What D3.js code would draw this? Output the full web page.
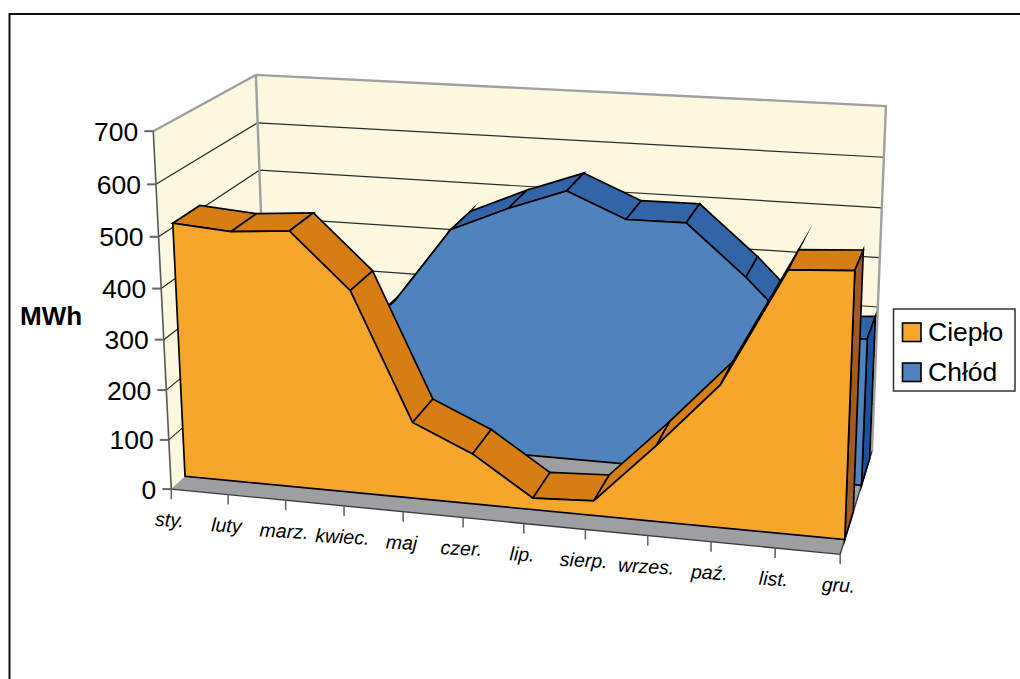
<!DOCTYPE html>
<html lang="pl">
<head>
<meta charset="utf-8">
<style>
html,body{margin:0;background:#fff}
svg{display:block}
text{font-family:"Liberation Sans",Arial,sans-serif;fill:#000}
</style>
</head>
<body>
<svg id="chart" width="1020" height="679"></svg>
<script src="https://cdn.jsdelivr.net/npm/d3@7"></script>
<script>
// Monthly energy demand, MWh
const months = ["sty.","luty","marz.","kwiec.","maj","czer.","lip.","sierp.","wrzes.","paź.","list.","gru."];
const heat = [508,499,508,401,152,100,23,29,148,275,498,505];
const cool = [120,150,190,301,453,503,545,496,497,398,284,294];
const valueTicks = [0,100,200,300,400,500,600,700];
const seriesNames = ["Ciepło","Chłód"];

const palette = {
  wall:"#FCF8DF", floor:"#9E9FA1", edge:"#9EA0A2", grid:"#2a2a2a",
  heatFront:"#F6A62B", heatTop:"#D67E14", heatSide:"#A05A22",
  coolFront:"#5083BE", coolTop:"#3264A8", coolSide:"#1A529E"
};

// Anchor points of the chart box: [month 0-1, value 0-1, depth 0-1, screen x, screen y]
const anchors = [
  [0,0,0,172,488],[1,0,0,840,553],[0,1,0,153,132],[0,1,1,256,75],[1,0,1,871.5,453],[1,1,1,886,107],
  [0,1/7,0,167,440],[0,5/7,0,158.5,238],[0,6/7,0,156,184],
  [0,6/7,1,257.5,122],[0,5/7,1,260,170],
  [1,6/7,1,884,157],[1,5/7,1,882,207],[1,4/7,1,879.5,257],[1,3/7,1,877.5,307],
  [1/11,0,0,228,495],[3/11,0,0,345.5,506],[5/11,0,0,463,517],[7/11,0,0,585.5,530],[9/11,0,0,710,542],
  [1,0,0.13,846,540],[1,505/700,0.13,855,270]
];

// Least-squares fit of the 3D-to-screen projective camera
function fitCamera(points){
  const n = 11, M = Array.from({length:n},()=>new Array(n+1).fill(0));
  const accumulate = (row,t)=>{ for(let i=0;i<n;i++){ for(let j=0;j<n;j++) M[i][j]+=row[i]*row[j]; M[i][n]+=row[i]*t; } };
  points.forEach(([u,v,w,X,Y])=>{
    accumulate([u,v,w,1,0,0,0,0,-X*u,-X*v,-X*w],X);
    accumulate([0,0,0,0,u,v,w,1,-Y*u,-Y*v,-Y*w],Y);
  });
  for(let c=0;c<n;c++){
    let p=c; for(let r=c+1;r<n;r++) if(Math.abs(M[r][c])>Math.abs(M[p][c])) p=r;
    [M[c],M[p]]=[M[p],M[c]];
    for(let r=0;r<n;r++) if(r!==c){ const f=M[r][c]/M[c][c]; for(let k=c;k<=n;k++) M[r][k]-=f*M[c][k]; }
  }
  return M.map((r,i)=>r[n]/r[i]);
}
const cam = fitCamera(anchors);
const project = (u,v,w)=>{
  const d = cam[8]*u+cam[9]*v+cam[10]*w+1;
  return [(cam[0]*u+cam[1]*v+cam[2]*w+cam[3])/d,(cam[4]*u+cam[5]*v+cam[6]*w+cam[7])/d];
};

const x = d3.scaleLinear().domain([0,months.length-1]).range([0,1]);
const y = d3.scaleLinear().domain([0,700]).range([0,1]);
const at = (i,val,w)=>project(x(i),y(val),w);
const closed = d3.line().curve(d3.curveLinearClosed);
const open = d3.line();

const svg = d3.select("#chart");
const last = months.length-1;

// Frame of the figure
svg.append("path").attr("d","M9.5,679V14H1020").attr("fill","none").attr("stroke","#111").attr("stroke-width",2);

// Walls and floor
const walls = svg.append("g");
walls.append("path").attr("d",closed([project(0,0,0),project(0,1,0),project(0,1,1),project(0,0,1)])).attr("fill",palette.wall);
walls.append("path").attr("d",closed([project(0,0,1),project(0,1,1),project(1,1,1),project(1,0,1)])).attr("fill",palette.wall);
walls.append("path").attr("d",closed([project(0,0,0),project(0,0,1),project(1,0,1),project(1,0,0)])).attr("fill",palette.floor);

// Gridlines across the side and back walls
const grid = svg.append("g").attr("fill","none").attr("stroke",palette.grid).attr("stroke-width",1.2);
valueTicks.filter(t=>t>0 && t<700).forEach(t=>{
  grid.append("path").attr("d",open([at(0,t,0),at(0,t,1),at(last,t,1)]));
});

// Wall outlines
const outline = svg.append("g").attr("fill","none");
outline.append("path").attr("d",open([project(0,1,0),project(0,1,1),project(1,1,1),project(1,0,1)]))
  .attr("stroke",palette.edge).attr("stroke-width",2.4);
outline.append("path").attr("d",open([project(0,1,1),project(0,0,1)])).attr("stroke",palette.edge).attr("stroke-width",2.4);
outline.append("path").attr("d",open([project(0,1,0),project(0,0,0)])).attr("stroke","#55585a").attr("stroke-width",1.6);
outline.append("path").attr("d",open([project(0,0,0),project(1,0,0),project(1,0,1)])).attr("stroke","#3a3a3a").attr("stroke-width",1.4);

// Value axis
const axisY = svg.append("g");
valueTicks.forEach(t=>{
  const [px,py] = at(0,t,0);
  axisY.append("line").attr("x1",px-9).attr("x2",px).attr("y1",py).attr("y2",py).attr("stroke","#666").attr("stroke-width",2);
  axisY.append("text").attr("x",px-15).attr("y",py+9.5).attr("text-anchor","end").attr("font-size",26.5).text(t);
});
svg.append("text").attr("x",20).attr("y",325).attr("font-size",26).attr("font-weight","bold").text("MWh");

// Month axis
const axisX = svg.append("g");
months.forEach((m,i)=>{
  const [px,py] = at(i,0,0);
  axisX.append("line").attr("x1",px).attr("x2",px).attr("y1",py).attr("y2",py+10).attr("stroke","#666").attr("stroke-width",1.6);
  axisX.append("text")
    .attr("transform",`translate(${px-2},${py+37.5}) rotate(3)`)
    .attr("text-anchor","middle").attr("font-size",19.5).attr("font-style","italic").text(m);
});

// One extruded area band: top facets, right-hand end, then the front face
function band(values,w0,w1,front,top,side){
  const g = svg.append("g").attr("stroke","#000").attr("stroke-width",1.7)
    .attr("stroke-linejoin","miter").attr("stroke-miterlimit",40);
  d3.pairs(values.map((v,i)=>[v,i])).forEach(([a,b])=>{
    g.append("path").attr("fill",top)
      .attr("d",closed([at(a[1],a[0],w0),at(a[1],a[0],w1),at(b[1],b[0],w1),at(b[1],b[0],w0)]));
  });
  g.append("path").attr("fill",side)
    .attr("d",closed([at(last,0,w0),at(last,values[last],w0),at(last,values[last],w1),at(last,0,w1)]));
  const outlinePts = [at(0,0,w0),...values.map((v,i)=>at(i,v,w0)),at(last,0,w0)];
  g.append("path").attr("fill",front).attr("d",closed(outlinePts));
}
band(cool,0.645,0.92,palette.coolFront,palette.coolTop,palette.coolSide);
band(heat,0.13,0.385,palette.heatFront,palette.heatTop,palette.heatSide);

// Legend
const legend = svg.append("g");
legend.append("rect").attr("x",893.5).attr("y",309).attr("width",121.5).attr("height",82)
  .attr("fill","#fff").attr("stroke","#333").attr("stroke-width",1.5);
seriesNames.forEach((name,i)=>{
  const top = 323+i*40;
  legend.append("rect").attr("x",902.5).attr("y",top).attr("width",18.5).attr("height",18.5)
    .attr("fill",i?palette.coolFront:palette.heatFront).attr("stroke","#000").attr("stroke-width",1.6);
  legend.append("text").attr("x",928).attr("y",top+18).attr("font-size",26.5).text(name);
});
</script>
</body>
</html>
